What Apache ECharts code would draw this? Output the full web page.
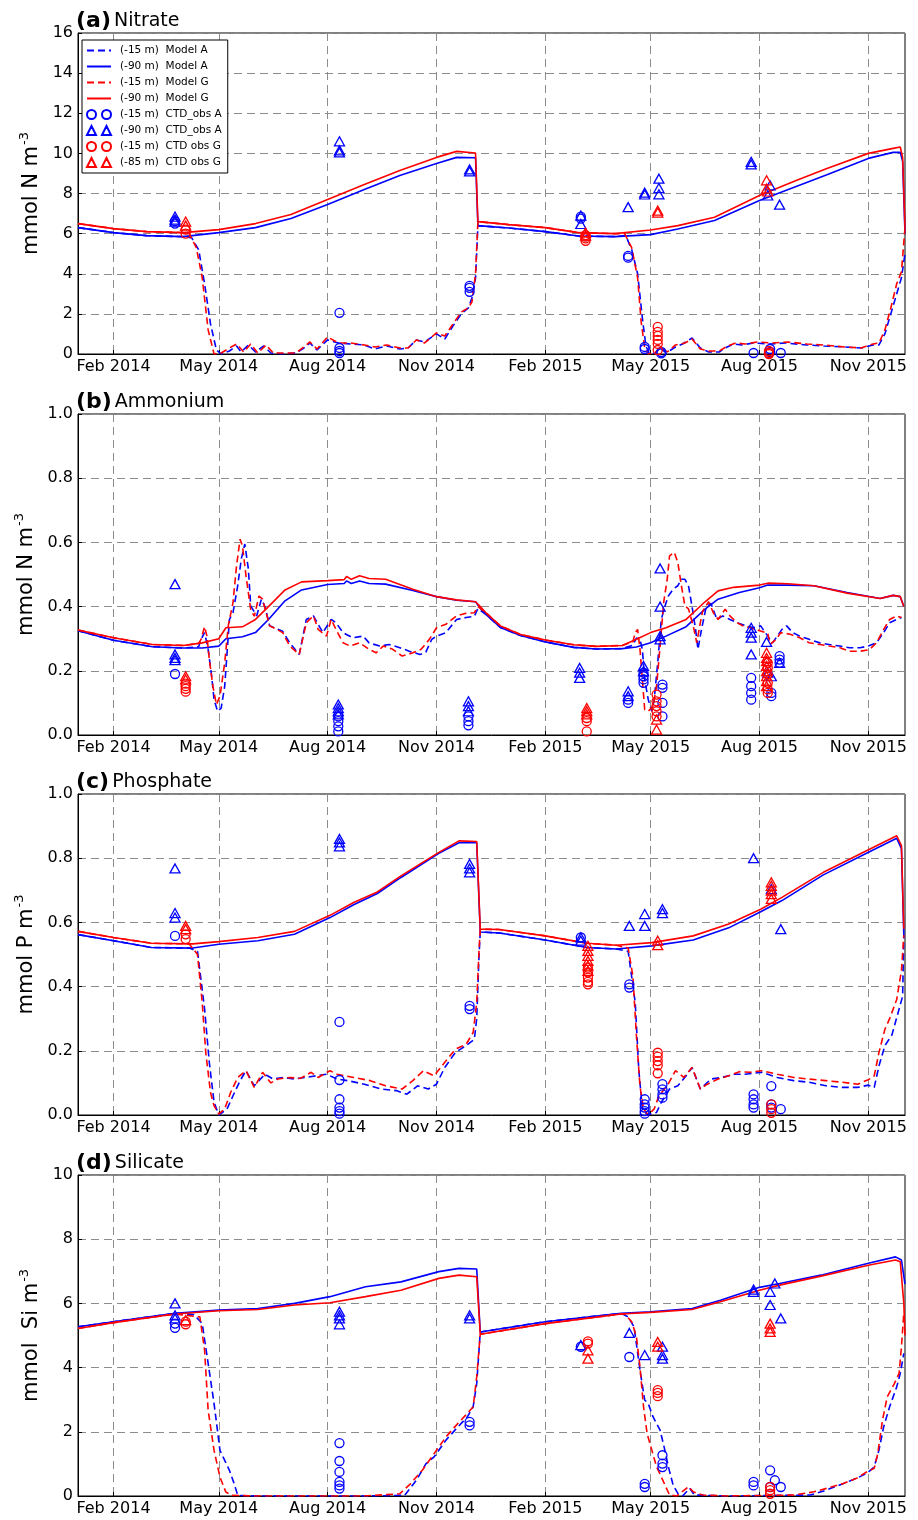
<!DOCTYPE html>
<html>
<head>
<meta charset="utf-8">
<script src="https://cdn.jsdelivr.net/npm/echarts@6/dist/echarts.min.js"></script>
<style>html,body{margin:0;padding:0;background:#fff}#c{width:918px;height:1520px}</style>
</head>
<body>
<div id="c"></div>
<script>
// ---------- DATA ----------
const xTicks = ['2014-02-01','2014-05-01','2014-08-01','2014-11-01','2015-02-01','2015-05-01','2015-08-01','2015-11-01'];
const monthNames = ['Jan','Feb','Mar','Apr','May','Jun','Jul','Aug','Sep','Oct','Nov','Dec'];
const seriesNames = ['(-15 m)  Model A','(-90 m)  Model A','(-15 m)  Model G','(-90 m)  Model G',
  '(-15 m)  CTD_obs A','(-90 m)  CTD_obs A','(-15 m)  CTD obs G','(-85 m)  CTD obs G'];

// (a) Nitrate
const nitA15 = [['2014-01-02',6.3],['2014-02-01',6.05],['2014-03-01',5.9],['2014-04-01',5.85],['2014-04-08',5.8],['2014-04-14',5.2],['2014-04-19',3.5],['2014-04-24',1.5],['2014-04-29',0.2],['2014-05-03',0.0],['2014-05-10',0.15],['2014-05-16',0.4],['2014-05-20',0.1],['2014-05-26',0.45],['2014-06-01',0.1],['2014-06-08',0.4],['2014-06-14',0.05],['2014-06-25',0.0],['2014-07-05',0.05],['2014-07-12',0.3],['2014-07-17',0.55],['2014-07-23',0.2],['2014-08-01',0.7],['2014-08-10',0.55],['2014-08-20',0.5],['2014-09-01',0.45],['2014-09-10',0.25],['2014-09-20',0.4],['2014-10-01',0.25],['2014-10-08',0.3],['2014-10-15',0.7],['2014-10-22',0.6],['2014-11-01',1.0],['2014-11-08',0.75],['2014-11-15',1.4],['2014-11-22',2.0],['2014-11-28',2.3],['2014-12-01',2.8],['2014-12-04',3.8],['2014-12-06',6.4],['2015-01-01',6.28],['2015-02-01',6.1],['2015-03-01',5.88],['2015-04-01',5.85],['2015-04-10',5.9],['2015-04-15',5.2],['2015-04-20',4.0],['2015-04-24',1.8],['2015-04-27',0.4],['2015-04-30',0.0],['2015-05-05',0.05],['2015-05-09',0.3],['2015-05-14',0.05],['2015-05-22',0.35],['2015-05-28',0.5],['2015-06-05',0.8],['2015-06-12',0.3],['2015-06-19',0.1],['2015-06-28',0.1],['2015-07-03',0.3],['2015-07-10',0.5],['2015-07-17',0.45],['2015-07-27',0.55],['2015-08-10',0.5],['2015-08-23',0.55],['2015-09-10',0.45],['2015-09-24',0.4],['2015-10-12',0.35],['2015-10-26',0.3],['2015-11-05',0.45],['2015-11-10',0.45],['2015-11-15',1.0],['2015-11-20',2.0],['2015-11-25',3.0],['2015-11-29',3.8],['2015-12-02',5.0]];
const nitA90 = [['2014-01-02',6.3],['2014-02-01',6.05],['2014-03-01',5.9],['2014-04-01',5.85],['2014-05-01',6.05],['2014-06-01',6.3],['2014-07-01',6.75],['2014-08-01',7.45],['2014-09-01',8.2],['2014-10-01',8.9],['2014-11-01',9.5],['2014-11-18',9.8],['2014-12-04',9.78],['2014-12-06',6.4],['2015-01-01',6.28],['2015-02-01',6.1],['2015-03-01',5.88],['2015-04-01',5.85],['2015-05-01',5.95],['2015-05-24',6.23],['2015-06-24',6.65],['2015-08-01',7.65],['2015-09-01',8.35],['2015-09-27',8.94],['2015-11-01',9.75],['2015-11-22',10.05],['2015-11-28',10.05],['2015-11-30',9.6],['2015-12-02',6.0]];
const nitG15 = [['2014-01-02',6.5],['2014-02-01',6.25],['2014-03-01',6.1],['2014-04-01',6.05],['2014-04-06',6.0],['2014-04-12',5.3],['2014-04-17',3.8],['2014-04-22',1.2],['2014-04-27',0.0],['2014-05-03',0.05],['2014-05-10',0.3],['2014-05-16',0.5],['2014-05-22',0.1],['2014-05-28',0.5],['2014-06-03',0.05],['2014-06-10',0.45],['2014-06-16',0.05],['2014-06-25',0.05],['2014-07-05',0.05],['2014-07-12',0.35],['2014-07-17',0.6],['2014-07-23',0.25],['2014-08-01',0.85],['2014-08-10',0.55],['2014-08-20',0.55],['2014-09-01',0.45],['2014-09-10',0.35],['2014-09-20',0.45],['2014-10-01',0.3],['2014-10-08',0.3],['2014-10-15',0.7],['2014-10-22',0.55],['2014-11-01',1.05],['2014-11-08',0.9],['2014-11-15',1.5],['2014-11-22',2.1],['2014-11-28',2.3],['2014-12-01',2.6],['2014-12-04',4.0],['2014-12-06',6.6],['2015-01-01',6.45],['2015-02-01',6.3],['2015-03-01',6.05],['2015-04-01',6.0],['2015-04-09',6.0],['2015-04-15',5.3],['2015-04-20',3.8],['2015-04-23',1.6],['2015-04-26',0.3],['2015-04-29',0.0],['2015-05-05',0.1],['2015-05-10',0.35],['2015-05-15',0.1],['2015-05-22',0.45],['2015-05-30',0.55],['2015-06-05',0.75],['2015-06-12',0.25],['2015-06-19',0.15],['2015-06-28',0.15],['2015-07-05',0.4],['2015-07-12',0.55],['2015-07-20',0.5],['2015-07-30',0.6],['2015-08-12',0.55],['2015-08-25',0.6],['2015-09-10',0.5],['2015-09-24',0.45],['2015-10-12',0.35],['2015-10-26',0.3],['2015-11-05',0.5],['2015-11-10',0.55],['2015-11-15',1.2],['2015-11-20',2.3],['2015-11-25',3.5],['2015-11-29',4.1],['2015-12-02',6.3]];
const nitG90 = [['2014-01-02',6.5],['2014-02-01',6.25],['2014-03-01',6.1],['2014-04-01',6.05],['2014-05-01',6.2],['2014-06-01',6.5],['2014-07-01',6.95],['2014-08-01',7.7],['2014-09-01',8.45],['2014-10-01',9.15],['2014-11-01',9.8],['2014-11-18',10.1],['2014-12-04',10.02],['2014-12-06',6.6],['2015-01-01',6.45],['2015-02-01',6.3],['2015-03-01',6.05],['2015-04-01',6.0],['2015-05-01',6.18],['2015-05-24',6.4],['2015-06-24',6.82],['2015-08-01',7.9],['2015-09-01',8.65],['2015-09-27',9.25],['2015-11-01',10.0],['2015-11-22',10.25],['2015-11-28',10.32],['2015-11-30',9.8],['2015-12-02',6.3]];
const nitObsA15 = [['2014-03-25',6.5],['2014-03-25',6.62],['2014-08-11',2.05],['2014-08-11',0.3],['2014-08-11',0.15],['2014-08-11',0.05],['2014-11-29',3.4],['2014-11-29',3.3],['2014-11-29',3.1],['2015-03-03',6.85],['2015-03-03',6.75],['2015-04-12',4.89],['2015-04-12',4.8],['2015-04-26',0.35],['2015-04-26',0.25],['2015-05-10',0.1],['2015-05-10',0.03],['2015-07-27',0.05],['2015-08-10',0.25],['2015-08-10',0.1],['2015-08-19',0.05]];
const nitObsA90 = [['2014-03-25',6.85],['2014-03-25',6.7],['2014-03-25',6.6],['2014-08-11',10.6],['2014-08-11',10.15],['2014-08-11',10.05],['2014-11-29',9.2],['2014-11-29',9.1],['2015-03-03',6.9],['2015-03-03',6.48],['2015-04-12',7.32],['2015-04-26',8.04],['2015-04-26',7.95],['2015-05-08',8.74],['2015-05-08',8.27],['2015-05-08',7.96],['2015-07-25',9.58],['2015-07-25',9.45],['2015-08-10',8.4],['2015-08-08',7.9],['2015-08-18',7.44]];
const nitObsG15 = [['2014-04-03',6.2],['2014-04-03',6.0],['2015-03-07',5.93],['2015-03-07',5.85],['2015-03-07',5.76],['2015-03-07',5.64],['2015-05-07',1.35],['2015-05-07',1.1],['2015-05-07',0.9],['2015-05-07',0.7],['2015-05-07',0.5],['2015-05-07',0.2],['2015-08-09',0.15],['2015-08-09',0.05],['2015-08-09',0.0]];
const nitObsG85 = [['2014-04-03',6.6],['2014-04-03',6.4],['2015-03-07',6.05],['2015-03-07',5.9],['2015-05-07',7.15],['2015-05-07',7.05],['2015-08-07',8.66],['2015-08-07',8.24],['2015-08-08',8.1]];

// (b) Ammonium
const ammA15 = [['2014-01-02',0.325],['2014-02-01',0.295],['2014-03-06',0.275],['2014-04-01',0.271],['2014-04-14',0.275],['2014-04-16',0.298],['2014-04-19',0.319],['2014-04-22',0.267],['2014-04-25',0.183],['2014-04-27',0.11],['2014-04-30',0.074],['2014-05-03',0.084],['2014-05-06',0.152],['2014-05-10',0.36],['2014-05-13',0.381],['2014-05-17',0.465],['2014-05-20',0.548],['2014-05-23',0.595],['2014-05-26',0.517],['2014-05-28',0.402],['2014-06-02',0.371],['2014-06-06',0.423],['2014-06-09',0.40],['2014-06-13',0.34],['2014-06-24',0.323],['2014-06-30',0.287],['2014-07-08',0.251],['2014-07-14',0.36],['2014-07-20',0.371],['2014-07-28',0.319],['2014-08-04',0.36],['2014-08-08',0.35],['2014-08-14',0.319],['2014-08-22',0.303],['2014-08-31',0.308],['2014-09-05',0.287],['2014-09-14',0.277],['2014-09-22',0.282],['2014-10-01',0.272],['2014-10-09',0.261],['2014-10-18',0.251],['2014-10-23',0.258],['2014-10-28',0.298],['2014-11-01',0.308],['2014-11-09',0.319],['2014-11-18',0.36],['2014-11-26',0.366],['2014-12-03',0.37],['2014-12-06',0.394],['2014-12-13',0.375],['2014-12-25',0.335],['2015-01-11',0.31],['2015-02-01',0.29],['2015-02-25',0.273],['2015-03-16',0.268],['2015-04-07',0.269],['2015-04-16',0.28],['2015-04-19',0.302],['2015-04-22',0.298],['2015-04-24',0.267],['2015-04-26',0.173],['2015-04-29',0.11],['2015-05-02',0.074],['2015-05-04',0.11],['2015-05-07',0.225],['2015-05-10',0.36],['2015-05-13',0.40],['2015-05-16',0.433],['2015-05-20',0.454],['2015-05-24',0.465],['2015-05-27',0.485],['2015-05-30',0.485],['2015-06-02',0.465],['2015-06-05',0.40],['2015-06-08',0.329],['2015-06-10',0.267],['2015-06-13',0.329],['2015-06-17',0.40],['2015-06-21',0.41],['2015-06-26',0.36],['2015-07-01',0.371],['2015-07-07',0.36],['2015-07-13',0.35],['2015-07-21',0.34],['2015-07-27',0.334],['2015-08-02',0.34],['2015-08-08',0.308],['2015-08-12',0.287],['2015-08-16',0.308],['2015-08-20',0.329],['2015-08-24',0.34],['2015-08-29',0.319],['2015-09-04',0.308],['2015-09-12',0.298],['2015-09-21',0.287],['2015-09-29',0.282],['2015-10-08',0.277],['2015-10-16',0.272],['2015-10-25',0.272],['2015-11-01',0.277],['2015-11-08',0.2875],['2015-11-14',0.319],['2015-11-19',0.35],['2015-11-25',0.36],['2015-11-29',0.366]];
const ammA90 = [['2014-01-02',0.325],['2014-02-01',0.295],['2014-03-06',0.275],['2014-04-01',0.271],['2014-04-17',0.271],['2014-05-01',0.277],['2014-05-07',0.30],['2014-05-21',0.306],['2014-06-01',0.319],['2014-06-12',0.36],['2014-06-26',0.418],['2014-07-10',0.452],['2014-08-01',0.469],['2014-08-15',0.472],['2014-08-17',0.48],['2014-08-21',0.472],['2014-08-28',0.48],['2014-09-05',0.472],['2014-09-19',0.47],['2014-10-12',0.45],['2014-11-01',0.431],['2014-11-18',0.42],['2014-12-04',0.415],['2014-12-08',0.395],['2014-12-13',0.375],['2014-12-25',0.335],['2015-01-11',0.31],['2015-02-01',0.29],['2015-02-25',0.273],['2015-03-16',0.268],['2015-04-07',0.269],['2015-04-19',0.274],['2015-05-01',0.2875],['2015-05-14',0.308],['2015-05-31',0.3375],['2015-06-16',0.392],['2015-06-27',0.423],['2015-07-15',0.444],['2015-08-01',0.459],['2015-08-08',0.467],['2015-08-25',0.467],['2015-09-16',0.465],['2015-10-14',0.444],['2015-11-11',0.425],['2015-11-22',0.435],['2015-11-28',0.431],['2015-12-01',0.40]];
const ammG15 = [['2014-01-02',0.327],['2014-02-01',0.303],['2014-03-06',0.282],['2014-04-01',0.279],['2014-04-14',0.285],['2014-04-16',0.298],['2014-04-19',0.3375],['2014-04-21',0.308],['2014-04-23',0.235],['2014-04-26',0.152],['2014-04-29',0.095],['2014-05-02',0.121],['2014-05-06',0.225],['2014-05-09',0.34],['2014-05-13',0.4125],['2014-05-16',0.527],['2014-05-19',0.61],['2014-05-21',0.59],['2014-05-24',0.496],['2014-05-28',0.39],['2014-05-31',0.37],['2014-06-04',0.433],['2014-06-07',0.423],['2014-06-13',0.34],['2014-06-19',0.329],['2014-06-24',0.319],['2014-06-30',0.277],['2014-07-08',0.251],['2014-07-14',0.35],['2014-07-20',0.371],['2014-07-24',0.329],['2014-07-31',0.308],['2014-08-04',0.36],['2014-08-08',0.329],['2014-08-14',0.2875],['2014-08-20',0.277],['2014-08-28',0.2875],['2014-09-05',0.267],['2014-09-11',0.256],['2014-09-17',0.277],['2014-09-25',0.267],['2014-10-03',0.246],['2014-10-12',0.256],['2014-10-19',0.267],['2014-10-26',0.298],['2014-11-01',0.334],['2014-11-09',0.345],['2014-11-18',0.371],['2014-11-26',0.379],['2014-12-03',0.381],['2014-12-06',0.40],['2014-12-13',0.38],['2014-12-25',0.34],['2015-01-11',0.313],['2015-02-01',0.296],['2015-02-25',0.281],['2015-03-16',0.276],['2015-04-07',0.279],['2015-04-16',0.29],['2015-04-18',0.319],['2015-04-20',0.329],['2015-04-22',0.267],['2015-04-24',0.173],['2015-04-26',0.079],['2015-04-29',0.074],['2015-05-03',0.09],['2015-05-06',0.152],['2015-05-09',0.277],['2015-05-12',0.4125],['2015-05-15',0.485],['2015-05-17',0.558],['2015-05-21',0.569],['2015-05-24',0.5375],['2015-05-27',0.465],['2015-05-30',0.402],['2015-06-02',0.393],['2015-06-06',0.34],['2015-06-09',0.2875],['2015-06-12',0.35],['2015-06-14',0.386],['2015-06-19',0.415],['2015-06-23',0.381],['2015-06-27',0.36],['2015-07-03',0.392],['2015-07-07',0.371],['2015-07-13',0.35],['2015-07-18',0.34],['2015-07-24',0.334],['2015-08-02',0.324],['2015-08-08',0.317],['2015-08-10',0.282],['2015-08-15',0.298],['2015-08-19',0.319],['2015-08-27',0.314],['2015-09-04',0.303],['2015-09-12',0.2875],['2015-09-21',0.282],['2015-09-29',0.277],['2015-10-08',0.272],['2015-10-16',0.261],['2015-10-25',0.261],['2015-11-02',0.266],['2015-11-08',0.2875],['2015-11-14',0.329],['2015-11-19',0.36],['2015-11-25',0.371],['2015-11-29',0.366]];
const ammG90 = [['2014-01-02',0.327],['2014-02-01',0.303],['2014-03-06',0.282],['2014-04-01',0.279],['2014-04-17',0.287],['2014-05-01',0.30],['2014-05-07',0.334],['2014-05-21',0.337],['2014-06-01',0.36],['2014-06-12',0.40],['2014-06-26',0.452],['2014-07-10',0.477],['2014-08-01',0.481],['2014-08-15',0.484],['2014-08-17',0.494],['2014-08-21',0.485],['2014-08-28',0.496],['2014-09-05',0.4875],['2014-09-19',0.485],['2014-10-12',0.454],['2014-11-01',0.431],['2014-11-18',0.421],['2014-12-04',0.415],['2014-12-08',0.40],['2014-12-13',0.38],['2014-12-25',0.34],['2015-01-11',0.313],['2015-02-01',0.296],['2015-02-25',0.281],['2015-03-16',0.276],['2015-04-07',0.279],['2015-04-19',0.298],['2015-05-01',0.319],['2015-05-14',0.334],['2015-05-31',0.36],['2015-06-16',0.415],['2015-06-27',0.449],['2015-07-10',0.46],['2015-08-01',0.467],['2015-08-08',0.473],['2015-08-25',0.471],['2015-09-16',0.465],['2015-10-14',0.442],['2015-11-11',0.425],['2015-11-22',0.435],['2015-11-28',0.431],['2015-12-01',0.40]];
const ammObsA15 = [['2014-03-25',0.19],['2014-08-10',0.058],['2014-08-10',0.043],['2014-08-10',0.027],['2014-08-10',0.011],['2014-11-28',0.058],['2014-11-28',0.043],['2014-11-28',0.03],['2015-04-12',0.11],['2015-04-12',0.10],['2015-04-25',0.194],['2015-04-25',0.183],['2015-04-25',0.173],['2015-04-25',0.1625],['2015-05-11',0.157],['2015-05-11',0.147],['2015-05-11',0.10],['2015-05-11',0.058],['2015-07-25',0.178],['2015-07-25',0.152],['2015-07-25',0.131],['2015-07-25',0.11],['2015-08-11',0.131],['2015-08-11',0.121],['2015-08-18',0.246],['2015-08-18',0.235],['2015-08-18',0.225]];
const ammObsA90 = [['2014-03-25',0.47],['2014-03-25',0.251],['2014-03-25',0.24],['2014-03-25',0.233],['2014-08-10',0.095],['2014-08-10',0.084],['2014-08-10',0.074],['2014-08-10',0.064],['2014-11-28',0.105],['2014-11-28',0.09],['2014-11-28',0.074],['2015-03-02',0.209],['2015-03-02',0.194],['2015-03-02',0.178],['2015-04-12',0.136],['2015-04-12',0.121],['2015-04-25',0.215],['2015-04-25',0.199],['2015-05-09',0.519],['2015-05-09',0.40],['2015-05-09',0.308],['2015-05-09',0.298],['2015-07-25',0.334],['2015-07-25',0.319],['2015-07-25',0.303],['2015-07-25',0.251],['2015-08-07',0.29],['2015-08-08',0.194],['2015-08-11',0.183],['2015-08-18',0.225]];
const ammObsG15 = [['2014-04-03',0.16],['2014-04-03',0.152],['2014-04-03',0.144],['2014-04-03',0.135],['2015-03-08',0.053],['2015-03-08',0.043],['2015-03-08',0.011],['2015-05-06',0.126],['2015-05-06',0.105],['2015-05-06',0.09],['2015-05-06',0.074],['2015-05-06',0.058],['2015-08-08',0.225],['2015-08-08',0.209],['2015-08-08',0.189],['2015-08-08',0.1625],['2015-08-08',0.142],['2015-08-08',0.131]];
const ammObsG85 = [['2014-04-03',0.183],['2014-04-03',0.173],['2015-03-08',0.084],['2015-03-08',0.074],['2015-03-08',0.064],['2015-05-06',0.048],['2015-05-06',0.017],['2015-08-07',0.256],['2015-08-07',0.24],['2015-08-07',0.23],['2015-08-07',0.215],['2015-08-07',0.199],['2015-08-07',0.183],['2015-08-07',0.168],['2015-08-07',0.152]];

// (c) Phosphate
const phoA15 = [['2014-01-02',0.562],['2014-02-01',0.543],['2014-03-05',0.522],['2014-04-06',0.52],['2014-04-13',0.51],['2014-04-19',0.33],['2014-04-23',0.163],['2014-04-27',0.04],['2014-05-01',0.0],['2014-05-08',0.019],['2014-05-13',0.06],['2014-05-19',0.107],['2014-05-24',0.138],['2014-05-31',0.091],['2014-06-09',0.127],['2014-06-16',0.112],['2014-06-25',0.117],['2014-07-04',0.112],['2014-07-13',0.117],['2014-07-22',0.122],['2014-07-31',0.127],['2014-08-09',0.112],['2014-08-18',0.107],['2014-09-01',0.096],['2014-09-15',0.081],['2014-09-28',0.076],['2014-10-07',0.065],['2014-10-16',0.091],['2014-10-25',0.081],['2014-11-01',0.096],['2014-11-08',0.148],['2014-11-17',0.195],['2014-11-26',0.216],['2014-12-03',0.236],['2014-12-05',0.30],['2014-12-07',0.50],['2014-12-08',0.57],['2014-12-24',0.567],['2015-02-01',0.545],['2015-03-08',0.522],['2015-04-02',0.517],['2015-04-12',0.51],['2015-04-18',0.35],['2015-04-21',0.14],['2015-04-24',0.02],['2015-04-28',0.0],['2015-05-06',0.008],['2015-05-10',0.039],['2015-05-17',0.081],['2015-05-24',0.091],['2015-05-31',0.122],['2015-06-05',0.148],['2015-06-12',0.081],['2015-06-21',0.112],['2015-06-30',0.117],['2015-07-11',0.127],['2015-07-20',0.127],['2015-08-03',0.133],['2015-08-16',0.117],['2015-08-30',0.107],['2015-09-12',0.102],['2015-09-26',0.091],['2015-10-10',0.086],['2015-10-23',0.086],['2015-11-01',0.093],['2015-11-06',0.086],['2015-11-10',0.153],['2015-11-15',0.216],['2015-11-21',0.25],['2015-11-27',0.33],['2015-11-30',0.37],['2015-12-01',0.56]];
const phoA90 = [['2014-01-02',0.562],['2014-02-01',0.543],['2014-03-05',0.522],['2014-04-09',0.52],['2014-05-01',0.532],['2014-06-03',0.543],['2014-07-04',0.563],['2014-08-03',0.615],['2014-08-23',0.655],['2014-09-12',0.69],['2014-10-02',0.74],['2014-11-03',0.815],['2014-11-20',0.848],['2014-12-05',0.848],['2014-12-08',0.57],['2014-12-24',0.567],['2015-02-01',0.545],['2015-03-08',0.522],['2015-04-02',0.517],['2015-05-02',0.527],['2015-06-06',0.545],['2015-07-06',0.583],['2015-08-02',0.633],['2015-08-20',0.668],['2015-09-24',0.748],['2015-11-02',0.82],['2015-11-25',0.862],['2015-11-29',0.83],['2015-12-01',0.56]];
const phoG15 = [['2014-01-02',0.572],['2014-02-01',0.553],['2014-03-05',0.535],['2014-04-06',0.533],['2014-04-13',0.50],['2014-04-17',0.35],['2014-04-20',0.194],['2014-04-24',0.07],['2014-04-27',0.029],['2014-05-01',0.003],['2014-05-06',0.019],['2014-05-11',0.07],['2014-05-17',0.117],['2014-05-24',0.138],['2014-05-31',0.086],['2014-06-07',0.133],['2014-06-14',0.10],['2014-06-20',0.112],['2014-06-30',0.117],['2014-07-09',0.114],['2014-07-18',0.133],['2014-07-24',0.117],['2014-08-03',0.138],['2014-08-09',0.127],['2014-08-23',0.117],['2014-09-06',0.107],['2014-09-19',0.091],['2014-10-03',0.081],['2014-10-12',0.107],['2014-10-21',0.138],['2014-10-30',0.122],['2014-11-08',0.164],['2014-11-17',0.205],['2014-11-26',0.22],['2014-12-02',0.257],['2014-12-05',0.35],['2014-12-07',0.517],['2014-12-08',0.579],['2014-12-24',0.578],['2015-02-01',0.558],['2015-03-08',0.535],['2015-04-02',0.529],['2015-04-12',0.52],['2015-04-16',0.433],['2015-04-19',0.246],['2015-04-22',0.09],['2015-04-25',0.019],['2015-04-29',0.0],['2015-05-04',0.019],['2015-05-08',0.06],['2015-05-15',0.091],['2015-05-22',0.138],['2015-05-29',0.117],['2015-06-05',0.148],['2015-06-12',0.081],['2015-06-18',0.096],['2015-06-27',0.112],['2015-07-06',0.122],['2015-07-15',0.135],['2015-07-24',0.133],['2015-08-03',0.138],['2015-08-16',0.127],['2015-08-30',0.117],['2015-09-12',0.112],['2015-09-26',0.107],['2015-10-10',0.102],['2015-10-23',0.096],['2015-11-01',0.11],['2015-11-06',0.122],['2015-11-10',0.195],['2015-11-15',0.267],['2015-11-19',0.30],['2015-11-25',0.36],['2015-11-29',0.45],['2015-12-01',0.56]];
const phoG90 = [['2014-01-02',0.572],['2014-02-01',0.553],['2014-03-05',0.535],['2014-04-09',0.533],['2014-05-01',0.54],['2014-06-03',0.553],['2014-07-04',0.572],['2014-08-03',0.622],['2014-08-23',0.662],['2014-09-12',0.695],['2014-10-02',0.745],['2014-11-03',0.818],['2014-11-20',0.854],['2014-12-05',0.852],['2014-12-08',0.579],['2014-12-24',0.578],['2015-02-01',0.558],['2015-03-08',0.535],['2015-04-02',0.529],['2015-05-02',0.537],['2015-06-06',0.558],['2015-07-06',0.595],['2015-08-02',0.641],['2015-08-20',0.678],['2015-09-24',0.756],['2015-11-02',0.828],['2015-11-25',0.87],['2015-11-29',0.839],['2015-12-01',0.58]];
const phoObsA15 = [['2014-03-25',0.558],['2014-08-11',0.29],['2014-08-11',0.109],['2014-08-11',0.049],['2014-08-11',0.023],['2014-08-11',0.012],['2014-08-11',0.004],['2014-11-29',0.34],['2014-11-29',0.33],['2015-03-03',0.553],['2015-04-13',0.407],['2015-04-13',0.397],['2015-04-26',0.049],['2015-04-26',0.033],['2015-04-26',0.023],['2015-04-26',0.012],['2015-04-26',0.004],['2015-05-11',0.096],['2015-05-11',0.08],['2015-05-11',0.064],['2015-05-11',0.054],['2015-07-27',0.064],['2015-07-27',0.049],['2015-07-27',0.033],['2015-07-27',0.023],['2015-08-11',0.09],['2015-08-11',0.033],['2015-08-11',0.023],['2015-08-19',0.018]];
const phoObsA90 = [['2014-03-25',0.768],['2014-03-25',0.629],['2014-03-25',0.615],['2014-08-11',0.86],['2014-08-11',0.849],['2014-08-11',0.837],['2014-11-29',0.782],['2014-11-29',0.768],['2014-11-29',0.756],['2015-03-03',0.553],['2015-03-03',0.543],['2015-04-13',0.589],['2015-04-26',0.626],['2015-04-26',0.589],['2015-05-11',0.641],['2015-05-11',0.629],['2015-07-27',0.80],['2015-08-11',0.704],['2015-08-19',0.579]];
const phoObsG15 = [['2014-04-03',0.563],['2014-04-03',0.548],['2015-03-09',0.459],['2015-03-09',0.444],['2015-03-09',0.428],['2015-03-09',0.415],['2015-03-09',0.407],['2015-05-07',0.194],['2015-05-07',0.182],['2015-05-07',0.168],['2015-05-07',0.155],['2015-05-07',0.13],['2015-08-11',0.033],['2015-08-11',0.018],['2015-08-11',0.007]];
const phoObsG85 = [['2014-04-03',0.589],['2014-04-03',0.579],['2015-03-09',0.527],['2015-03-09',0.511],['2015-03-09',0.496],['2015-03-09',0.48],['2015-03-09',0.465],['2015-03-09',0.449],['2015-05-07',0.543],['2015-05-07',0.529],['2015-08-11',0.725],['2015-08-11',0.714],['2015-08-11',0.699],['2015-08-11',0.688],['2015-08-11',0.673]];

// (d) Silicate
const silA15 = [['2014-01-02',5.27],['2014-02-01',5.43],['2014-03-25',5.69],['2014-04-10',5.65],['2014-04-17',5.37],['2014-04-22',4.13],['2014-04-27',2.88],['2014-05-02',1.42],['2014-05-10',0.8],['2014-05-14',0.38],['2014-05-17',0.02],['2014-06-01',0.0],['2014-09-01',0.0],['2014-10-05',0.02],['2014-10-15',0.49],['2014-10-23',1.0],['2014-10-30',1.22],['2014-11-09',1.74],['2014-11-19',2.15],['2014-11-27',2.46],['2014-12-02',2.78],['2014-12-05',3.5],['2014-12-08',5.11],['2015-02-01',5.43],['2015-04-06',5.69],['2015-04-12',5.58],['2015-04-17',5.27],['2015-04-22',3.92],['2015-04-26',2.99],['2015-04-29',2.88],['2015-05-03',2.47],['2015-05-09',2.05],['2015-05-13',1.43],['2015-05-16',0.91],['2015-05-20',0.34],['2015-05-24',0.08],['2015-05-28',0.0],['2015-06-03',0.24],['2015-06-07',0.03],['2015-07-04',0.0],['2015-09-13',0.03],['2015-09-27',0.19],['2015-10-11',0.39],['2015-10-22',0.55],['2015-10-31',0.71],['2015-11-06',0.91],['2015-11-10',1.43],['2015-11-14',2.16],['2015-11-19',2.78],['2015-11-25',3.4],['2015-11-28',3.82],['2015-12-01',4.44]];
const silA90 = [['2014-01-02',5.27],['2014-02-01',5.43],['2014-03-25',5.69],['2014-05-01',5.79],['2014-06-03',5.84],['2014-07-04',6.0],['2014-08-03',6.21],['2014-09-02',6.52],['2014-10-02',6.67],['2014-11-03',6.99],['2014-11-20',7.09],['2014-12-05',7.07],['2014-12-08',5.11],['2015-02-01',5.43],['2015-04-06',5.69],['2015-05-01',5.74],['2015-06-05',5.84],['2015-06-29',6.1],['2015-08-01',6.5],['2015-08-18',6.62],['2015-09-22',6.88],['2015-11-01',7.25],['2015-11-24',7.45],['2015-11-29',7.35],['2015-12-02',6.6]];
const silG15 = [['2014-01-02',5.22],['2014-02-01',5.4],['2014-03-25',5.67],['2014-04-10',5.6],['2014-04-15',5.58],['2014-04-19',4.54],['2014-04-22',2.67],['2014-04-27',1.42],['2014-05-02',0.59],['2014-05-07',0.12],['2014-05-12',0.02],['2014-06-01',0.0],['2014-09-01',0.0],['2014-10-01',0.07],['2014-10-10',0.38],['2014-10-20',0.8],['2014-10-30',1.32],['2014-11-09',1.84],['2014-11-19',2.26],['2014-11-27',2.57],['2014-12-02',2.78],['2014-12-05',3.71],['2014-12-08',5.04],['2015-02-01',5.37],['2015-04-06',5.67],['2015-04-09',5.68],['2015-04-15',5.43],['2015-04-19',4.96],['2015-04-22',4.02],['2015-04-25',2.78],['2015-04-28',1.95],['2015-05-02',1.43],['2015-05-06',0.91],['2015-05-10',0.6],['2015-05-15',0.19],['2015-05-17',0.03],['2015-05-23',0.0],['2015-06-02',0.29],['2015-06-06',0.13],['2015-06-14',0.03],['2015-07-04',0.0],['2015-08-30',0.03],['2015-09-16',0.13],['2015-09-27',0.24],['2015-10-11',0.39],['2015-10-22',0.55],['2015-10-31',0.76],['2015-11-06',0.86],['2015-11-09',1.33],['2015-11-13',2.37],['2015-11-17',3.09],['2015-11-23',3.5],['2015-11-27',3.82],['2015-11-29',4.65],['2015-12-01',5.7]];
const silG90 = [['2014-01-02',5.22],['2014-02-01',5.4],['2014-03-25',5.67],['2014-05-01',5.77],['2014-06-03',5.81],['2014-07-04',5.95],['2014-08-03',6.02],['2014-09-02',6.21],['2014-10-02',6.41],['2014-11-03',6.78],['2014-11-20',6.88],['2014-12-05',6.83],['2014-12-08',5.04],['2015-02-01',5.37],['2015-04-06',5.67],['2015-05-01',5.72],['2015-06-05',5.81],['2015-06-29',6.05],['2015-08-01',6.41],['2015-08-18',6.57],['2015-09-22',6.85],['2015-11-01',7.19],['2015-11-24',7.35],['2015-11-28',7.3],['2015-12-01',6.0],['2015-12-02',5.0]];
const silObsA15 = [['2014-03-25',5.37],['2014-03-25',5.24],['2014-08-11',1.65],['2014-08-11',1.09],['2014-08-11',0.75],['2014-08-11',0.44],['2014-08-11',0.33],['2014-08-11',0.23],['2014-11-29',2.31],['2014-11-29',2.2],['2015-03-03',4.65],['2015-04-13',4.33],['2015-04-26',0.38],['2015-04-26',0.28],['2015-05-11',1.27],['2015-05-11',1.01],['2015-05-11',0.9],['2015-07-27',0.44],['2015-07-27',0.33],['2015-08-10',0.8],['2015-08-10',0.28],['2015-08-14',0.49],['2015-08-19',0.28]];
const silObsA90 = [['2014-03-25',6.0],['2014-03-25',5.63],['2014-03-25',5.53],['2014-08-11',5.74],['2014-08-11',5.63],['2014-08-11',5.53],['2014-08-11',5.35],['2014-11-29',5.63],['2014-11-29',5.53],['2015-03-03',4.7],['2015-04-13',5.08],['2015-04-26',4.39],['2015-05-11',4.65],['2015-05-11',4.39],['2015-05-11',4.28],['2015-07-27',6.43],['2015-07-27',6.36],['2015-08-10',6.36],['2015-08-10',5.95],['2015-08-14',6.62],['2015-08-19',5.53]];
const silObsG15 = [['2014-04-03',5.43],['2014-04-03',5.35],['2015-03-09',4.82],['2015-03-09',4.75],['2015-05-07',3.3],['2015-05-07',3.21],['2015-05-07',3.11],['2015-08-10',0.28],['2015-08-10',0.18],['2015-08-10',0.07]];
const silObsG85 = [['2014-04-03',5.48],['2015-03-09',4.54],['2015-03-09',4.28],['2015-05-07',4.8],['2015-05-07',4.65],['2015-08-10',5.37],['2015-08-10',5.22],['2015-08-10',5.11]];

// ---------- LAYOUT / STYLE ----------
const panels = [
  {tag:'(a)', title:'Nitrate',   unit:'mmol N m',  yMax:16, yInt:2,   dec:0, top:33,   data:[nitA15,nitA90,nitG15,nitG90,nitObsA15,nitObsA90,nitObsG15,nitObsG85]},
  {tag:'(b)', title:'Ammonium',  unit:'mmol N m',  yMax:1,  yInt:0.2, dec:1, top:414,  data:[ammA15,ammA90,ammG15,ammG90,ammObsA15,ammObsA90,ammObsG15,ammObsG85]},
  {tag:'(c)', title:'Phosphate', unit:'mmol P m',  yMax:1,  yInt:0.2, dec:1, top:794,  data:[phoA15,phoA90,phoG15,phoG90,phoObsA15,phoObsA90,phoObsG15,phoObsG85]},
  {tag:'(d)', title:'Silicate',  unit:'mmol  Si m',yMax:10, yInt:2,   dec:0, top:1175, data:[silA15,silA90,silG15,silG90,silObsA15,silObsA90,silObsG15,silObsG85]}
];
const BLUE = '#0000ff', RED = '#ff0000';
const styles = [
  {kind:'line', color:BLUE, dash:true}, {kind:'line', color:BLUE, dash:false},
  {kind:'line', color:RED, dash:true},  {kind:'line', color:RED, dash:false},
  {kind:'scatter', color:BLUE, sym:'circle'}, {kind:'scatter', color:BLUE, sym:'triangle'},
  {kind:'scatter', color:RED, sym:'circle'},  {kind:'scatter', color:RED, sym:'triangle'}
];
const FONT = 'DejaVu Sans';
const ts = s => +echarts.time.parse(s);
const tickTs = xTicks.map(ts);
const xMin = ts('2014-01-02');
const xMax = ts('2015-12-02');
const circlesIcon = 'path://M0,5A4.5,4.5,0,1,1,9,5A4.5,4.5,0,1,1,0,5ZM15,5A4.5,4.5,0,1,1,24,5A4.5,4.5,0,1,1,15,5Z';
const trianglesIcon = 'path://M0,9.5L4.5,0.5L9,9.5ZM15,9.5L19.5,0.5L24,9.5Z';

const chart = echarts.init(document.getElementById('c'), null, {renderer:'canvas', width:918, height:1520});

const series = [];
panels.forEach((p, pi) => {
  styles.forEach((st, si) => {
    const data = p.data[si].map(d => [ts(d[0]), d[1]]);
    const base = {name: seriesNames[si], xAxisIndex: pi, yAxisIndex: pi, data: data, animation:false, silent:true};
    if (st.kind === 'line') {
      series.push(Object.assign(base, {type:'line', symbol:'none', showSymbol:false,
        itemStyle:{color:st.color},
        lineStyle:{color:st.color, width:1.6, type: st.dash ? [7,4] : 'solid'}, z:2}));
    } else {
      series.push(Object.assign(base, {type:'scatter', symbol:st.sym, symbolSize: st.sym==='circle' ? 9 : [10,9],
        itemStyle:{color:'rgba(0,0,0,0)', borderColor:st.color, borderWidth:1.3, opacity:1}, z:3}));
    }
  });
});

const hiddenSym = {opacity:0, color:'rgba(0,0,0,0)', borderWidth:0};
const option = {
  backgroundColor:'#fff',
  animation:false,
  title: panels.map(p => ({
    text: '{b|' + p.tag + '}{n|' + p.title + '}',
    left: 71, top: p.top - 28,
    textStyle:{fontWeight:'normal', rich:{
      b:{fontSize:22, fontWeight:'bold', fontFamily:FONT, color:'#000'},
      n:{fontSize:19, fontWeight:'normal', fontFamily:FONT, color:'#000', padding:[0,0,0,3]}
    }}
  })),
  legend: {
    left: 82, top: 40, orient:'vertical',
    itemWidth:24, itemHeight:10, itemGap:5,
    padding:[5,6,5,4],
    borderColor:'#000', borderWidth:1, backgroundColor:'#fff',
    textStyle:{fontSize:10.5, fontFamily:FONT, color:'#000', padding:[0,0,0,4]},
    selectedMode:false,
    data: [
      {name:seriesNames[0], itemStyle:hiddenSym},{name:seriesNames[1], itemStyle:hiddenSym},
      {name:seriesNames[2], itemStyle:hiddenSym},{name:seriesNames[3], itemStyle:hiddenSym},
      {name:seriesNames[4], icon:circlesIcon},{name:seriesNames[5], icon:trianglesIcon},
      {name:seriesNames[6], icon:circlesIcon},{name:seriesNames[7], icon:trianglesIcon}
    ]
  },
  grid: panels.map(p => ({left:78, top:p.top, width:827, height:321, show:true, borderColor:'#000', borderWidth:1, containLabel:false})),
  xAxis: panels.map((p, i) => ({
    type:'value', gridIndex:i, min:xMin, max:xMax, scale:true,
    axisLine:{show:true, lineStyle:{color:'#000', width:1}},
    axisTick:{show:true, inside:true, length:4, customValues:tickTs, lineStyle:{color:'#000'}},
    axisLabel:{customValues:tickTs, fontSize:16, fontFamily:FONT, color:'#000', margin:5, showMinLabel:true, showMaxLabel:true,
      formatter: v => { const d = new Date(v); return monthNames[d.getMonth()] + ' ' + d.getFullYear(); }},
    splitLine:{show:true, lineStyle:{color:'#8c8c8c', width:1, type:[8,5]}}
  })),
  yAxis: panels.map((p, i) => ({
    type:'value', gridIndex:i, min:0, max:p.yMax, interval:p.yInt,
    name:'{m|' + p.unit + '}{s|-3}', nameLocation:'middle', nameRotate:90, nameGap:22,
    nameTextStyle:{rich:{
      m:{fontSize:21, fontFamily:FONT, color:'#000', lineHeight:26},
      s:{fontSize:13, fontFamily:FONT, color:'#000', verticalAlign:'top', lineHeight:14, padding:[0,0,0,1]}
    }},
    axisLine:{show:true, lineStyle:{color:'#000', width:1}},
    axisTick:{show:true, inside:true, length:4, lineStyle:{color:'#000'}},
    axisLabel:{fontSize:16, fontFamily:FONT, color:'#000', margin:5,
      formatter: v => v.toFixed(p.dec)},
    splitLine:{show:true, lineStyle:{color:'#8c8c8c', width:1, type:[8,5]}}
  })),
  series: series
};
chart.setOption(option);
</script>
</body>
</html>
